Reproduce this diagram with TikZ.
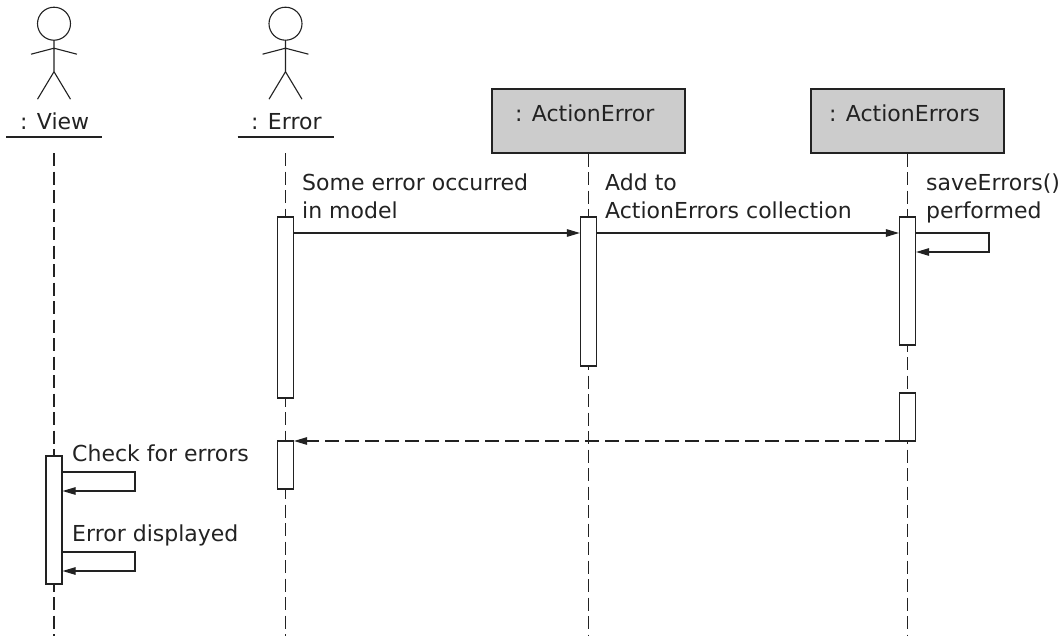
\documentclass[tikz,border=0pt]{standalone}
\usepackage{fontspec}
\setmainfont{DejaVu Sans}
\usetikzlibrary{arrows.meta}
\definecolor{ink}{HTML}{222222}
\definecolor{boxgrey}{HTML}{CCCCCC}
\tikzset{
  x=1pt,y=-1pt,
  line/.style={draw=ink,line width=1.1pt},
  life/.style={line,dash pattern=on 13pt off 5.5pt},
  bar/.style={line,fill=white,rectangle,inner sep=0pt,minimum width=16pt},
  objbox/.style={line,fill=boxgrey,rectangle,inner sep=0pt,minimum width=193pt,minimum height=64pt},
  txt/.style={font=\fontsize{22}{28}\selectfont,text=ink,inner sep=0pt,anchor=base west,align=left},
  msg/.style={line,-{Triangle[length=13pt,width=7.5pt]}},
  ret/.style={line,dash pattern=on 14pt off 6pt,-{Triangle[length=13pt,width=7.5pt]}},
  pics/actor/.style={code={
    \draw[line] (0,0) circle[radius=16.5];
    \draw[line] (0,16.5) -- (0,48) (-23,30.5) -- (0,24.5) -- (23,30.5) (-16.5,75.5) -- (0,48) -- (16.5,75.5);
  }}
}
\begin{document}
\begin{tikzpicture}
\useasboundingbox (0,0) rectangle (1063,638);
% actors
\pic at (54,23.7) {actor};
\pic at (285.5,23.7) {actor};
\node[txt] (lv) at (20,129) {: View};
\node[txt] (le) at (251,129) {: Error};
\coordinate (vu1) at (6,137); \coordinate (vu2) at (102,137);
\coordinate (eu1) at (237.5,137); \coordinate (eu2) at (333.5,137);
\draw[line] (vu1) -- (vu2);
\draw[line] (eu1) -- (eu2);
% objects
\node[objbox] (oa) at (588.5,121) {};
\node[objbox] (ob) at (907.5,121) {};
\node[txt] (ta) at (515,121) {: ActionError};
\node[txt] (tb) at (829,121) {: ActionErrors};
% lifelines
\coordinate (v0) at (54,153); \coordinate (v1) at (54,636);
\coordinate (e0) at (285.5,153); \coordinate (e1) at (285.5,636);
\coordinate (a1) at (588.5,636);
\coordinate (b1) at (907.5,636);
\draw[life] (v0) -- (v1);
\draw[life] (e0) -- (e1);
\draw[life] (oa.south) -- (a1);
\draw[life] (ob.south) -- (b1);
% activation bars
\node[bar,minimum height=181pt] (be1) at (285.5,307.5) {};
\node[bar,minimum height=48pt] (be2) at (285.5,465) {};
\node[bar,minimum height=149pt] (ba1) at (588.5,291.5) {};
\node[bar,minimum height=128pt] (bb1) at (907.5,281) {};
\node[bar,minimum height=48pt] (bb2) at (907.5,417) {};
\node[bar,minimum height=128pt] (bv) at (54,520) {};
% messages
\draw[msg] (be1.east |- 0,233) -- (ba1.west |- 0,233);
\draw[msg] (ba1.east |- 0,233) -- (bb1.west |- 0,233);
\draw[msg] (bb1.east |- 0,233) -| (989,252) -- (bb1.east |- 0,252);
\draw[ret] (bb2.west |- 0,441) -- (be2.east |- 0,441);
\draw[msg] (bv.east |- 0,472) -| (135,491) -- (bv.east |- 0,491);
\draw[msg] (bv.east |- 0,552) -| (135,571) -- (bv.east |- 0,571);
% labels
\node[txt] (m1) at (302,218) {Some error occurred\\in model};
\node[txt] (m2) at (605,218) {Add to\\ActionErrors collection};
\node[txt] (m3) at (926,218) {saveErrors()\\performed};
\node[txt] (m4) at (72,461) {Check for errors};
\node[txt] (m5) at (72,541.5) {Error displayed};
\end{tikzpicture}
\end{document}
